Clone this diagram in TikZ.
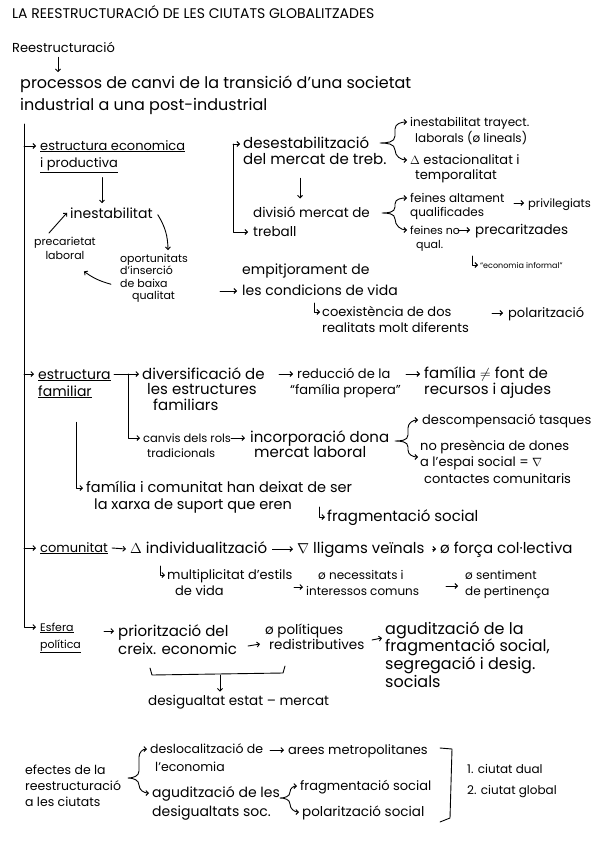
\documentclass[tikz,border=0pt]{standalone}
\usepackage{fontspec}
\setmainfont{Poppins}
\usetikzlibrary{arrows.meta, calc}

% multi-line text whose baseline is the first line
\newcommand{\lns}[1]{\begin{tabular}[t]{@{}l@{}}#1\end{tabular}}
\newcommand{\clns}[1]{\begin{tabular}[t]{@{}c@{}}#1\end{tabular}}

\begin{document}
\begin{tikzpicture}[
    x=1pt, y=-1pt,
    >={Straight Barb[length=2.5pt,width=5pt]}, % handwritten arrow tips
    txt/.style={anchor=base west, inner sep=0pt, font=\fontsize{13}{17}\selectfont},
    fs/.style n args={2}{font=\fontsize{#1}{#2}\selectfont},
    pen/.style={line width=0.9pt, line cap=round, line join=round},
    arr/.style={pen, ->}
]
\useasboundingbox[fill=white] (0,0) rectangle (600,848);

% Title and opening
\node[txt, fs={14}{16}] (title) at (12,19) {LA REESTRUCTURACIÓ DE LES CIUTATS GLOBALITZADES};
\node[txt] (reest) at (12,53) {Reestructuració};
\node[txt, fs={16}{21}] (proc) at (20,89) {\lns{processos de canvi de la transició d'una societat\\industrial a una post-industrial}};
\draw[arr] ($(reest.south west)+(46,4)$) -- ($(proc.north west)+(38,-2)$);

% Main spine
\coordinate (spinetop) at (24,124);

% ---- estructura economica i productiva
\node[txt] (eco) at (40,150) {\lns{\underline{estructura economica}\\\underline{i productiva}}};
\coordinate (eco-l) at ($(eco.base west)+(-4,-4)$);
\draw[arr] (spinetop |- eco-l) -- (eco-l);

\node[txt, fs={14}{16}] (inest) at (70,218) {inestabilitat};
\node[txt, fs={11}{14}] (precl) at (34,245) {\clns{precarietat\\laboral}};
\node[txt, fs={11}{12.5}] (oport) at (120,262) {\lns{oportunitats\\d'inserció\\de baixa\\\hspace*{12pt}qualitat}};
\draw[arr] ($(eco.south west)+(62,5)$) -- ($(inest.north west)+(32,-4)$);
\draw[arr] ($(precl.north west)+(15,-2)$) -- ($(inest.west)+(-3,0)$);
\draw[arr] ($(inest.east)+(5,2)$) to[bend left=15] ($(oport.north west)+(48,-3)$);
\draw[arr] ($(oport.west)+(-9,6)$) to[bend left=10] ($(precl.south east)+(-12,8)$);

\node[txt, fs={14}{21}] (emp) at (242,274) {\lns{empitjorament de\\les condicions de vida}};
\draw[arr] ($(emp.base west)+(-22,17)$) -- ($(emp.base west)+(-5,17)$);

% mercat de treball
\node[txt, fs={15}{17}] (desest) at (243,148) {\lns{desestabilització\\del mercat de treb.}};
\node[txt, fs={13.5}{19}] (divis) at (253,217) {\lns{divisió mercat de\\treball}};
\coordinate (b1) at ($(desest.base west)+(-10,-4)$);
\draw[arr] (b1) -- ($(desest.base west)+(-3,-4)$);
\draw[arr] (b1) |- ($(divis.base west)+(-5,15)$);
\draw[arr] ($(desest.south west)+(57,8)$) -- ($(divis.north west)+(47,-5)$);

\node[txt, fs={12}{16}] (inestt) at (410,126) {\lns{inestabilitat trayect.\\\hspace*{5pt}laborals (ø lineals)}};
\node[txt, fs={13}{15.5}] (estac) at (410,164) {\lns{$\Delta$ estacionalitat i\\\hspace*{5pt}temporalitat}};
\draw[pen, <->] ($(inestt.base west)+(-3,-4)$) to[out=180,in=90] (395,129) -- (395,136)
    to[out=-90,in=0] (380,143) to[out=0,in=90] (395,150)
    to[out=-90,in=180] ($(estac.base west)+(-3,-4)$);

\node[txt, fs={12}{14}] (fein1) at (410,202) {\lns{feines altament\\qualificades}};
\node[txt, fs={11}{14}] (fein2) at (410,234) {\lns{feines no\\\hspace*{6pt}qual.}};
\node[txt, fs={11.5}{13}] (priv) at (528,207) {privilegiats};
\node[txt, fs={13.5}{15}] (precz) at (475,234) {precaritzades};
\node[txt, fs={8}{10}] (informal) at (480,268) {“economia informal”};
\draw[pen, <->] ($(fein1.base west)+(-3,-4)$) to[out=180,in=90] (395,204) -- (395,207)
    to[out=-90,in=0] (382,213) to[out=0,in=90] (395,219)
    to[out=-90,in=180] ($(fein2.base west)+(-3,-4)$);
\draw[arr] ($(priv.base west)+(-14,-4)$) -- ($(priv.base west)+(-4,-4)$);
\draw[arr] ($(precz.base west)+(-17,-4)$) -- ($(precz.base west)+(-5,-4)$);
\draw[arr] ($(informal.base west)+(-8,-12)$) |- ($(informal.base west)+(-2,-3)$);

\node[txt, fs={13}{16}] (coex) at (322,316) {\lns{coexistència de dos\\realitats molt diferents}};
\node[txt] (polar) at (508,317) {polarització};
\draw[arr] ($(coex.base west)+(-8,-13)$) |- ($(coex.base west)+(-2,-4)$);
\draw[arr] ($(polar.base west)+(-16,-4)$) -- ($(polar.base west)+(-5,-4)$);

% ---- estructura familiar
\node[txt, fs={14}{17}] (famil) at (38,379) {\lns{\underline{estructura}\\\underline{familiar}}};
\coordinate (famil-l) at ($(famil.base west)+(-4,-5)$);
\draw[arr] (spinetop |- famil-l) -- (famil-l);

\node[txt, fs={15}{15.5}] (divers) at (142,379) {\lns{diversificació de\\\hspace*{5pt}les estructures\\\hspace*{11pt}familiars}};
\node[txt, fs={11.5}{15}] (canvis) at (143,442) {\lns{canvis dels rols\\\hspace*{4pt}tradicionals}};
\coordinate (b2) at ($(divers.base west)+(-14,-5)$);
\draw[pen] ($(famil.base west)+(76,-5)$) -- (b2);
\draw[arr] (b2) -- ($(divers.base west)+(-3,-5)$);
\draw[arr] (b2) |- ($(canvis.base west)+(-3,-4)$);

\node[txt, fs={13}{16}] (reduc) at (297,378) {\lns{reducció de la\\\hspace*{-7pt}“família propera”}};
\node[txt, fs={15}{16}] (fontn) at (424,378) {\lns{família $\neq$ font de\\recursos i ajudes}};
\node[txt, fs={15}{15}] (incorp) at (250,442) {\lns{incorporació dona\\\hspace*{4pt}mercat laboral}};
\draw[arr] ($(reduc.base west)+(-18,-4)$) -- ($(reduc.base west)+(-4,-4)$);
\draw[arr] ($(fontn.base west)+(-18,-4)$) -- ($(fontn.base west)+(-4,-4)$);
\draw[arr] ($(incorp.base west)+(-19,-4)$) -- ($(incorp.base west)+(-5,-4)$);

\node[txt] (desc) at (422,424) {descompensació tasques};
\node[txt, fs={13}{16.5}] (nopres) at (420,450) {\lns{no presència de dones\\a l'espai social = $\nabla$\\\hspace*{4pt}contactes comunitaris}};
\draw[pen, <->] ($(desc.base west)+(-4,-4)$) to[out=180,in=90] (408,428) -- (408,435)
    to[out=-90,in=0] (395,441) to[out=0,in=90] (408,447) -- (408,450)
    to[out=-90,in=180] ($(nopres.base west)+(-2,7)$);

\node[txt, fs={14.5}{17}] (famcom) at (86,492) {\lns{família i comunitat han deixat de ser\\\hspace*{8pt}la xarxa de suport que eren}};
\node[txt, fs={15}{17}] (fragsoc) at (327,521) {fragmentació social};
\draw[arr] ($(famil.south west)+(38,21)$) |- ($(famcom.base west)+(-3,-4)$);
\draw[arr] ($(fragsoc.base west)+(-8,-14)$) |- ($(fragsoc.base west)+(-2,-4)$);

% ---- comunitat
\node[txt] (comun) at (40,552) {\underline{comunitat}};
\coordinate (comun-l) at ($(comun.base west)+(-4,-4)$);
\draw[arr] (spinetop |- comun-l) -- (comun-l);
\node[txt, fs={15}{17}] (indiv) at (130,553) {$\Delta$ individualització};
\node[txt, fs={15}{17}] (lligam) at (297,553) {$\nabla$ lligams veïnals};
\node[txt, fs={15}{17}] (forca) at (440,553) {ø força col·lectiva};
\draw[arr] ($(comun.base east)+(4,-4)$) -- ($(indiv.base west)+(-4,-4)$);
\draw[arr] ($(indiv.base east)+(5,-4)$) -- ($(lligam.base west)+(-4,-4)$);
\draw[arr] ($(lligam.base east)+(8,-4)$) -- ($(forca.base west)+(-4,-4)$);

\node[txt, fs={13}{16}] (multip) at (167,579) {\lns{multiplicitat d'estils\\\hspace*{8pt}de vida}};
\node[txt, fs={12}{16}] (necess) at (318,579) {\lns{ø necessitats i\\\hspace*{-12pt}interessos comuns}};
\node[txt, fs={12}{16}] (sentim) at (465,579) {\lns{ø sentiment\\de pertinença}};
\draw[arr] ($(multip.base west)+(-7,-13)$) |- ($(multip.base west)+(-2,-4)$);
\draw[arr] ($(necess.base west)+(-24,8)$) -- ($(necess.base west)+(-15,8)$);
\draw[arr] ($(sentim.base west)+(-19,7)$) -- ($(sentim.base west)+(-7,7)$);

% ---- esfera politica
\node[txt, fs={11}{17}] (esf) at (40,631) {\lns{\underline{Esfera}\\\underline{política}}};
\draw[arr] (spinetop) |- ($(esf.base west)+(-4,-4)$);
\node[txt, fs={15}{18}] (prior) at (118,636) {\lns{priorització del\\creix. economic}};
\node[txt, fs={13.5}{15}] (polit) at (265,634) {\lns{ø polítiques\\\hspace*{4pt}redistributives}};
\node[txt, fs={16}{17.5}] (agud) at (385,634) {\lns{agudització de la\\fragmentació social,\\segregació i desig.\\socials}};
\draw[arr] ($(prior.base west)+(-14,-5)$) -- ($(prior.base west)+(-4,-5)$);
\draw[arr] ($(polit.base west)+(-17,12)$) -- ($(polit.base west)+(-5,10)$);
\draw[arr] ($(agud.base west)+(-13,6)$) -- ($(agud.base west)+(-3,4)$);

\node[txt, fs={13.5}{16}] (desig) at (148,705) {desigualtat estat – mercat};
\draw[pen] (150,668) -- (152,675) -- (283,673) -- (285,666);
\draw[arr] (220,675) -- ($(desig.north west)+(72,-3)$);

% ---- efectes
\node[txt, fs={12.5}{16}] (efect) at (25,774) {\lns{efectes de la\\reestructuració\\a les ciutats}};
\node[txt, fs={12.5}{18}] (desloc) at (150,753) {\lns{deslocalització de\\\hspace*{5pt}l'economia}};
\node[txt] (arees) at (288,754) {arees metropolitanes};
\node[txt, fs={14}{19}] (agud2) at (152,797) {\lns{agudització de les\\desigualtats soc.}};
\draw[pen, <->] ($(desloc.base west)+(-3,-4)$) to[out=180,in=90] (139,757) -- (139,771)
    to[out=-90,in=0] (128,778) to[out=0,in=90] (139,785)
    to[out=-90,in=180] ($(agud2.base west)+(-3,-4)$);
\draw[arr] ($(arees.base west)+(-18,-4)$) -- ($(arees.base west)+(-4,-4)$);

\node[txt] (frag2) at (300,790) {fragmentació social};
\node[txt, fs={13.5}{16}] (polar2) at (302,816) {polarització social};
\draw[pen, <->] ($(frag2.base west)+(-3,-4)$) to[out=180,in=90] (290,792)
    to[out=-90,in=0] (280,798) to[out=0,in=90] (290,804)
    to[out=-90,in=180] ($(polar2.base west)+(-3,-4)$);

\draw[pen] (440,748) -- (452,749) -- (450,818) -- (440,822);
\node[txt, fs={12}{14}] (dual) at (467,773) {1. ciutat dual};
\node[txt, fs={12}{14}] (global) at (467,794) {2. ciutat global};

\end{tikzpicture}
\end{document}
